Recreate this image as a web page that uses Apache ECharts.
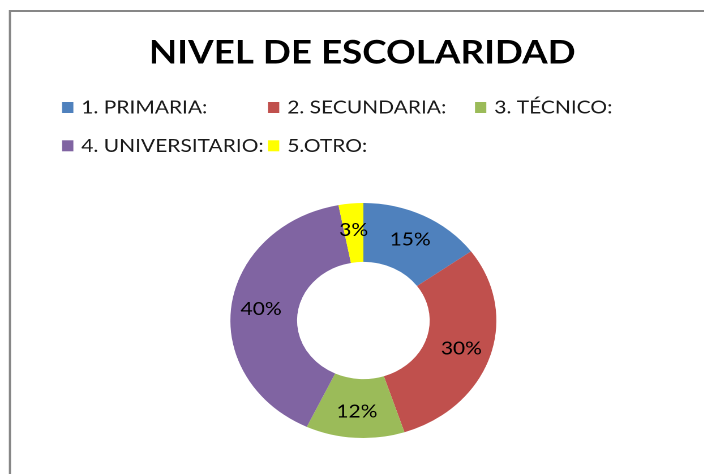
<!DOCTYPE html>
<html>
<head>
<meta charset="utf-8">
<script src="https://cdn.jsdelivr.net/npm/echarts@6/dist/echarts.min.js"></script>
<style>
  html, body {
    margin: 0;
    padding: 0;
    background: #ffffff;
    overflow: hidden;
  }
  /* the original picture is stretched sideways, so the whole chart is too */
  #chart-box {
    width: 640px;
    height: 474px;
    transform: scaleX(1.132);
    transform-origin: 0 0;
  }
</style>
</head>
<body>
<div id="chart-box"></div>
<script>
const categories = ['1. PRIMARIA:', '2. SECUNDARIA:', '3. TÉCNICO:', '4. UNIVERSITARIO:', '5.OTRO:'];
const percentages = [15, 30, 12, 40, 3];
const sliceColors = ['#4F81BD', '#C0504D', '#9BBB59', '#8064A2', '#FFFF00'];

let box = document.getElementById('chart-box')
let chart = echarts.init(box, null, {renderer: 'canvas', devicePixelRatio: 2})

let pieData = []
for (let i = 0; i < categories.length; i++) {
  pieData.push({name: categories[i], value: percentages[i]})
}

// legend laid out in a grid of 3 columns, one legend per entry
let legendCols = [54.8, 236.7, 419.6]
let legendRows = [98, 136.3]
let legends = []
for (let i = 0; i < categories.length; i++) {
  legends.push({
    data: [categories[i]],
    left: legendCols[i % 3],
    top: legendRows[Math.floor(i / 3)],
    padding: 0,
    itemWidth: 10,
    itemHeight: 11,
    icon: 'rect',
    selectedMode: false,
    textStyle: {
      fontFamily: 'Lato',
      fontSize: 18.5,
      color: '#1a1a1a',
      padding: [0, 0, 0, 2]
    }
  })
}

chart.setOption({
  animation: false,
  color: sliceColors,
  graphic: [
    {
      type: 'rect',
      shape: {x: 8.8, y: 11, width: 1000, height: 1000},
      style: {fill: 'none', stroke: '#878787', lineWidth: 2},
      silent: true
    }
  ],
  title: {
    text: 'NIVEL DE ESCOLARIDAD',
    left: 'center',
    top: 36.5,
    padding: 0,
    textStyle: {
      fontFamily: 'Lato',
      fontWeight: 'bold',
      fontSize: 32.5,
      color: '#000000'
    }
  },
  legend: legends,
  series: [
    {
      type: 'pie',
      center: [321, 320.5],
      radius: [58.6, 117.5],
      startAngle: 90,
      clockwise: true,
      avoidLabelOverlap: false,
      silent: true,
      label: {
        show: true,
        position: 'inside',
        formatter: '{c}%',
        fontFamily: 'Lato',
        fontSize: 18.5,
        color: '#000000'
      },
      labelLine: {
        show: false
      },
      itemStyle: {
        borderWidth: 0
      },
      data: pieData
    }
  ]
})
</script>
</body>
</html>
